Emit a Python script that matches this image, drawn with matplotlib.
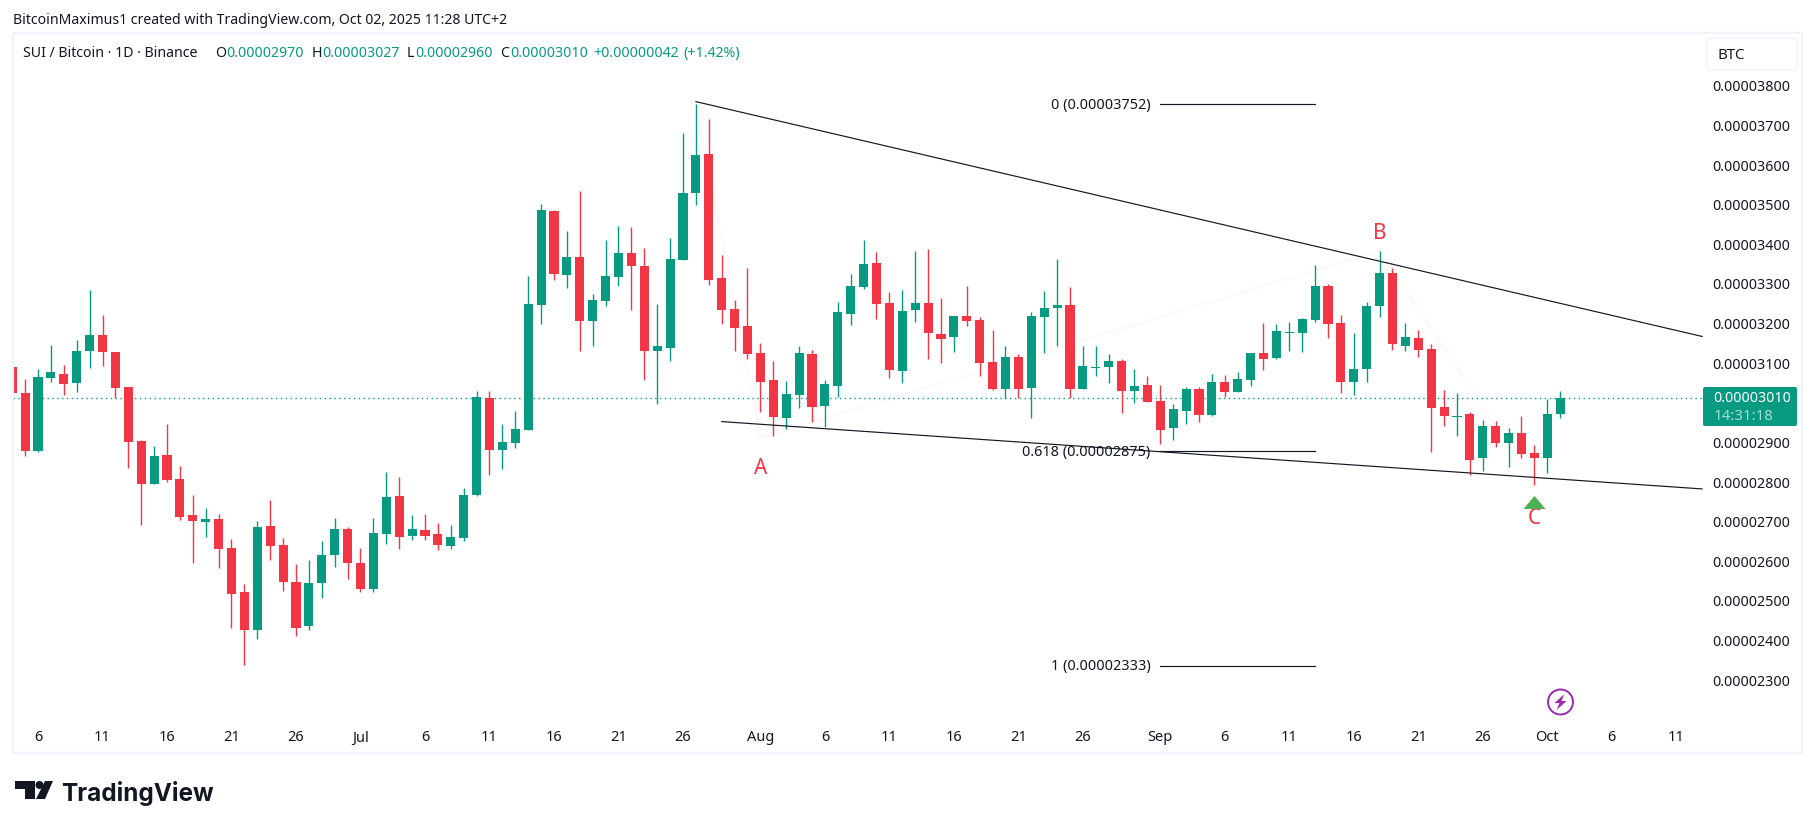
import matplotlib
matplotlib.use('Agg')
import matplotlib.pyplot as plt
import matplotlib.dates as mdates
from matplotlib.patches import Rectangle, FancyBboxPatch, Circle, Polygon
import pandas as pd

W, H = 1815, 829
UP = '#089981'
DOWN = '#f23645'
INK = '#131722'

plt.rcParams['font.family'] = ['Noto Sans', 'DejaVu Sans']

# daily candles in satoshi, 4 Jun to 2 Oct 2025
dates = pd.date_range('2025-06-04', '2025-10-02')
opens = [3087, 3022, 2876, 3060, 3070, 3047, 3128, 3169, 3126, 3037, 2901, 2792, 2866, 2805, 2714, 2696, 2704,
         2631, 2520, 2424, 2686, 2638, 2545, 2434, 2542, 2613, 2679,
         2593, 2527, 2666, 2762, 2661, 2676, 2666, 2636, 2656, 2765, 3010, 2878, 2896, 2929, 3244, 3482, 3320,
         3366, 3204, 3254, 3315, 3376, 3343, 3128, 3136, 3358, 3527, 3626, 3313, 3234, 3191,
         3123, 3055, 2959, 3017, 3121, 2989, 3040, 3222, 3290, 3350, 3249, 3078, 3232, 3249, 3171, 3164, 3217,
         3206, 3100, 3032, 3113, 3035, 3214, 3237, 3244, 3032, 3085, 3088, 3103, 3027, 3042,
         3002, 2934, 2977, 3032, 2967, 3050, 3025, 3055, 3123, 3110, 3174, 3174, 3207,
         3292, 3199, 3050, 3083, 3242, 3325, 3141, 3161, 3133, 2987, 2962, 2969, 2858, 2939, 2896, 2921, 2871,
         2858, 2970]
highs = [3087, 3057, 3083, 3143, 3093, 3156, 3282, 3219, 3126, 3037, 2903, 2888, 2944, 2838, 2765, 2732, 2717,
         2654, 2540, 2699, 2752, 2656, 2590, 2600, 2648, 2706, 2684,
         2631, 2707, 2823, 2810, 2714, 2717, 2694, 2689, 2782, 3027, 3027, 2944, 2977, 3318, 3499, 3484, 3431,
         3532, 3272, 3409, 3444, 3441, 3388, 3247, 3414, 3679, 3752, 3714, 3371, 3257, 3338,
         3148, 3103, 3052, 3141, 3131, 3055, 3252, 3323, 3408, 3378, 3277, 3282, 3381, 3386, 3262, 3217, 3292,
         3214, 3181, 3141, 3121, 3227, 3280, 3361, 3290, 3141, 3141, 3121, 3108, 3083, 3065,
         3042, 2994, 3037, 3037, 3070, 3068, 3075, 3123, 3199, 3196, 3201, 3212, 3345,
         3297, 3219, 3174, 3252, 3381, 3338, 3199, 3181, 3146, 3030, 3022, 2974, 2954, 2951, 2934, 2964, 2891,
         3007, 3027]
lows = [3021, 2864, 2874, 3050, 3017, 3025, 3085, 3090, 3010, 2833, 2689, 2792, 2797, 2701, 2593, 2659, 2580,
        2429, 2335, 2401, 2600, 2522, 2408, 2424, 2504, 2583, 2553,
        2520, 2520, 2641, 2628, 2651, 2651, 2626, 2628, 2649, 2762, 2815, 2830, 2883, 2929, 3196, 3308, 3287,
        3128, 3141, 3242, 3292, 3232, 3055, 2994, 3103, 3358, 3497, 3295, 3196, 3128, 3108,
        2974, 2914, 2931, 2984, 2949, 2936, 3012, 3194, 3285, 3209, 3060, 3047, 3201, 3108, 3098, 3126, 3191,
        3065, 3030, 3010, 3010, 2959, 3123, 3141, 3010, 3032, 3065, 3047, 2972, 2997, 2999,
        2893, 2903, 2944, 2949, 2964, 3012, 3025, 3040, 3080, 3108, 3128, 3126, 3201,
        3161, 3022, 3017, 3050, 3214, 3131, 3128, 3113, 2873, 2939, 2914, 2815, 2825, 2886, 2835, 2858, 2790,
        2820, 2960]
closes = [3021, 2876, 3063, 3075, 3045, 3128, 3169, 3126, 3035, 2898, 2792, 2863, 2802, 2709, 2699, 2704, 2628,
          2515, 2424, 2684, 2636, 2545, 2429, 2542, 2613, 2679, 2593,
          2527, 2669, 2760, 2659, 2679, 2661, 2638, 2659, 2765, 3012, 2878, 2898, 2931, 3247, 3484, 3323, 3366,
          3204, 3257, 3318, 3376, 3343, 3128, 3141, 3361, 3527, 3623, 3307, 3232, 3186, 3121,
          3050, 2962, 3020, 3123, 2987, 3045, 3227, 3292, 3348, 3247, 3080, 3229, 3249, 3174, 3159, 3217, 3204,
          3098, 3032, 3113, 3032, 3217, 3237, 3244, 3032, 3090, 3088, 3103, 3027, 3040, 2999,
          2929, 2982, 3032, 2967, 3050, 3025, 3057, 3123, 3108, 3179, 3176, 3209, 3292,
          3196, 3050, 3083, 3242, 3325, 3146, 3164, 3131, 2984, 2964, 2964, 2853, 2939, 2896, 2921, 2868, 2858,
          2969, 3010]

# 3000 sits under the last price tag, so it gets no label
price_ticks = [2300, 2400, 2500, 2600, 2700, 2800, 2900, 3100, 3200, 3300, 3400, 3500, 3600, 3700, 3800]
time_ticks = ['2025-06-06', '2025-06-11', '2025-06-16', '2025-06-21', '2025-06-26', '2025-07-01', '2025-07-06',
              '2025-07-11', '2025-07-16', '2025-07-21', '2025-07-26', '2025-08-01', '2025-08-06', '2025-08-11',
              '2025-08-16', '2025-08-21', '2025-08-26', '2025-09-01', '2025-09-06', '2025-09-11', '2025-09-16',
              '2025-09-21', '2025-09-26', '2025-10-01', '2025-10-06', '2025-10-11']
time_labels = ['6', '11', '16', '21', '26', 'Jul', '6', '11', '16', '21', '26', 'Aug', '6', '11', '16', '21', '26',
               'Sep', '6', '11', '16', '21', '26', 'Oct', '6', '11']
month_labels = ['Jul', 'Aug', 'Sep', 'Oct']

upper_x = ['2025-07-27', '2025-10-13']
upper_y = [3758, 3165]
lower_x = ['2025-07-29', '2025-10-13']
lower_y = [2950, 2780]
wave_x = ['2025-07-27', '2025-08-01', '2025-09-18', '2025-09-30']
wave_y = [3752, 2909, 3381, 2790]
fib_levels = [('0', 3752), ('0.618', 2875), ('1', 2333)]
fib_x = ['2025-09-01', '2025-09-13']


def num(d):
    return mdates.date2num(pd.Timestamp(d))


fig = plt.figure(figsize=(W / 100, H / 100), dpi=100, facecolor='white')
ax = fig.add_axes([13 / W, 1 - 720 / H, (1703 - 13) / W, (720 - 34) / H])
ax.set_facecolor('none')

for d, o, h, l, c in zip(dates, opens, highs, lows, closes):
    col = UP if c >= o else DOWN
    x = num(d)
    ax.vlines(x, l, h, color=col, lw=1.0, zorder=3)
    ax.bar(x, abs(c - o), bottom=min(o, c), width=0.7, color=col, linewidth=0, zorder=4)

ax.axhline(closes[-1], color=UP, lw=1, ls=(0, (1, 2.5)), zorder=2)

# ABC wave, barely visible under the candles
ax.plot([num(d) for d in wave_x], wave_y, color='#f23645', alpha=0.05, lw=1, zorder=1)

ax.plot([num(d) for d in upper_x], upper_y, color=INK, lw=0.85, zorder=5)
ax.plot([num(d) for d in lower_x], lower_y, color=INK, lw=0.85, zorder=5)

for name, level in fib_levels:
    ax.plot([num(d) for d in fib_x], [level, level], color=INK, lw=0.85, zorder=5)
    ax.annotate(f'{name} ({level / 1e8:.8f})', (num(fib_x[0]), level), xytext=(-7, 0),
                textcoords='offset points', ha='right', va='center', fontsize=10.4, color=INK, zorder=6)

ax.text(num('2025-08-01'), 2834, 'A', color=DOWN, fontsize=15, ha='center', va='center', zorder=6)
ax.text(num('2025-09-18'), 3428, 'B', color=DOWN, fontsize=15, ha='center', va='center', zorder=6)
ax.text(num('2025-09-30'), 2709, 'C', color=DOWN, fontsize=15, ha='center', va='center', zorder=6)
ax.plot(num('2025-09-30'), 2747, marker=[(-11, -6.5), (0, 6.5), (11, -6.5)], ms=15.8, color='#4caf50', mew=0, zorder=6)

d0 = num('2025-06-06')
ax.set_xlim(d0 - 1.938, d0 + 129.07)
ax.set_ylim(2199, 3931.3)
ax.set_xticks([num(d) for d in time_ticks])
ax.set_xticklabels(time_labels)
ax.set_yticks(price_ticks)
ax.set_yticklabels([f'{v / 1e8:.8f}' for v in price_ticks])
ax.yaxis.tick_right()
ax.tick_params(axis='both', length=0, labelcolor=INK)
ax.tick_params(axis='x', pad=7.5, labelsize=10.5)
ax.tick_params(axis='y', pad=6.5, labelsize=10.3)
for lab in ax.get_xticklabels():
    if lab.get_text() in month_labels:
        lab.set_fontweight('bold')
for s in ax.spines.values():
    s.set_visible(False)

# page furniture laid out in pixels over the whole figure
page = fig.add_axes([0, 0, 1, 1], zorder=10)
page.set_xlim(0, W)
page.set_ylim(H, 0)
page.axis('off')
page.patch.set_alpha(0)

page.add_patch(Rectangle((13, 34), 1789, 720, fill=False, ec='#f0f3fa', lw=1.6))
page.text(13, 20, 'BitcoinMaximus1 created with TradingView.com, Oct 02, 2025 11:28 UTC+2',
          fontsize=10.15, color=INK, va='center')

page.text(23, 53, 'SUI / Bitcoin · 1D · Binance', fontsize=10.2, color=INK, va='center')
legend_parts = [(215, 'O', INK), (226, f'{opens[-1] / 1e8:.8f}', UP), (312, 'H', INK), (322, f'{highs[-1] / 1e8:.8f}', UP),
                (407, 'L', INK), (415, f'{lows[-1] / 1e8:.8f}', UP), (500, 'C', INK), (510, f'{closes[-1] / 1e8:.8f}', UP),
                (593, '+0.00000042', UP), (683, '(+1.42%)', UP)]
for px, txt, col in legend_parts:
    page.text(px, 53, txt, fontsize=10.2, color=col, va='center')

page.add_patch(FancyBboxPatch((1707, 39), 90, 32, boxstyle='round,pad=0,rounding_size=4', fc='white', ec='#f0f3fa', lw=1.2))
page.text(1718, 55, 'BTC', fontsize=10.8, color=INK, va='center')

page.add_patch(FancyBboxPatch((1703, 388), 94, 39, boxstyle='round,pad=0,rounding_size=2', fc=UP, ec='none'))
page.text(1713, 398.5, f'{closes[-1] / 1e8:.8f}', fontsize=10.2, color='white', va='center', fontweight='bold')
page.text(1714, 416, '14:31:18', fontsize=10.8, color='#a5dcd1', va='center')

# lightning mark under the last candle
cx, cy = 1560.5, 703
page.add_patch(Circle((cx, cy), 12.5, fill=False, ec='#9c27b0', lw=1.4))
bolt = [(4, -8), (-6, 1), (-1, 1), (-4, 8), (6, -1), (1, -1)]
page.add_patch(Polygon([(cx + a, cy + b) for a, b in bolt], fc='#9c27b0', ec='none'))

# TradingView logo
page.add_patch(Polygon([(15, 782), (35, 782), (35, 800), (25, 800), (25, 790), (15, 790)], fc=INK, ec='none'))
page.add_patch(Circle((39.5, 786), 4, fc=INK, ec='none'))
page.add_patch(Polygon([(45, 782), (53, 782), (45, 800), (36, 800)], fc=INK, ec='none'))
page.text(61, 794, 'TradingView', fontsize=17.5, family='Inter', fontweight='bold', color=INK, va='center')

fig.savefig('out.png', dpi=100)
